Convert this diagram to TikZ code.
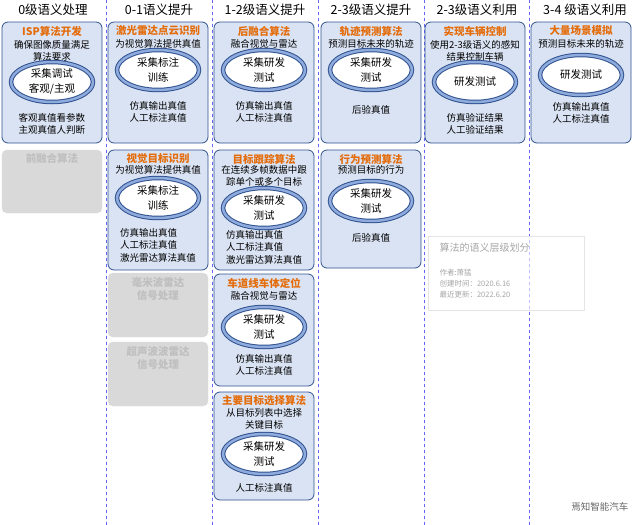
\documentclass[tikz,border=0pt]{standalone}
\usepackage{fontspec}
\setmainfont{Noto Sans CJK SC}
\usetikzlibrary{shapes.geometric}
\definecolor{boxfill}{RGB}{218,227,243}
\definecolor{titleorange}{RGB}{228,108,10}
\definecolor{ringblue}{RGB}{47,82,143}
\definecolor{ringlight}{RGB}{143,170,220}
\begin{document}
\begin{tikzpicture}
		[x=1pt,y=-1pt,line cap=round,
		%Styles
		algbox/.style={draw=ringblue,fill=boxfill,rounded corners=6pt,thick},
		greybox/.style={draw=black!15,fill=black!15,rounded corners=5pt},
		header/.style={font=\fontsize{12.5}{14}\selectfont},
		title/.style={font=\fontsize{10.5}{12}\selectfont\bfseries,text=titleorange},
		desc/.style={font=\fontsize{9.5}{12.5}\selectfont,align=center,inner sep=0pt},
		greytext/.style={font=\fontsize{10.5}{13}\selectfont\bfseries,text=black!25,align=center,inner sep=0pt},
		ring/.style={ellipse,draw=ringblue,double=ringlight,double distance=2.5pt,line width=1pt,
			fill=white,minimum width=82pt,minimum height=40pt,inner sep=0pt,align=center,
			font=\fontsize{10.5}{15}\selectfont},
		divider/.style={draw=blue!60,dashed,thin}
		]
		\useasboundingbox (0,0) rectangle (641,525);
		
		%Dividers and headers
		\foreach \x in {106,212,318,424,529}
			\draw[divider] (\x,0) -- (\x,525);
		\foreach \x/\t [count=\i] in {53/0级语义处理,159/0-1语义提升,265/1-2级语义提升,371/2-3级语义提升,477/2-3级语义利用,585/3-4 级语义利用}
			\node[header] (head\i) at (\x,10) {\t};
		
		%Algorithm boxes
		% #1 name, #2 left, #3 top, #4 bottom, #5 title, #6 desc, #7 desc y, #8 ring, #9 ring y
		\newcommand{\algbox}[9]{
			\draw[algbox] (#2,#3) rectangle ++(100,#4-#3);
			\node[title] (#1-title) at (#2+50,#3+9) {#5};
			\node[desc] (#1-desc) at (#2+50,#7) {#6};
			\node[ring] (#1-ring) at (#2+50,#9) {#8};
		}
		
		\algbox{isp}{2}{22}{143}{ISP算法开发}{确保图像质量满足\\算法要求}{51}{采集调试\\客观/主观}{82}
		\node[desc] (isp-res) at (52,124) {客观真值看参数\\主观真值人判断};
		
		\algbox{lidar}{108}{22}{143}{激光雷达点云识别}{为视觉算法提供真值}{44}{采集标注\\训练}{70}
		\node[desc,align=left] (lidar-res) at (158,112) {仿真输出真值\\人工标注真值};
		\algbox{vision}{108}{150}{270}{视觉目标识别}{为视觉算法提供真值}{170}{采集标注\\训练}{198}
		\node[desc,align=left] (vision-res) at (158,245) {仿真输出真值\\人工标注真值\\激光雷达算法真值};
		
		\algbox{late}{214}{22}{143}{后融合算法}{融合视觉与雷达}{44}{采集研发\\测试}{70}
		\node[desc,align=left] (late-res) at (264,112) {仿真输出真值\\人工标注真值};
		\algbox{track}{214}{150}{270}{目标跟踪算法}{在连续多帧数据中跟\\踪单个或多个目标}{176}{采集研发\\测试}{208}
		\node[desc,align=left] (track-res) at (264,247) {仿真输出真值\\人工标注真值\\激光雷达算法真值};
		\algbox{lane}{214}{274}{386}{车道线车体定位}{融合视觉与雷达}{296}{采集研发\\测试}{327}
		\node[desc,align=left] (lane-res) at (264,365) {仿真输出真值\\人工标注真值};
		\algbox{target}{214}{392}{500}{主要目标选择算法}{从目标列表中选择\\关键目标}{419}{采集研发\\测试}{454}
		\node[desc] (target-res) at (264,488) {人工标注真值};
		
		\algbox{traj}{321}{22}{143}{轨迹预测算法}{预测目标未来的轨迹}{44}{采集研发\\测试}{70}
		\node[desc] (traj-res) at (371,110) {后验真值};
		\algbox{behav}{321}{150}{268}{行为预测算法}{预测目标的行为}{170}{采集研发\\测试}{201}
		\node[desc] (behav-res) at (371,238) {后验真值};
		
		\algbox{ctrl}{425}{22}{143}{实现车辆控制}{使用2-3级语义的感知\\结果控制车辆}{51}{研发测试}{82}
		\node[desc,align=left] (ctrl-res) at (475,124) {仿真验证结果\\人工验证结果};
		\algbox{sim}{531}{22}{143}{大量场景模拟}{预测目标未来的轨迹}{44}{研发测试}{75}
		\node[desc,align=left] (sim-res) at (581,113) {仿真输出真值\\人工标注真值};
		
		%Grey boxes
		\draw[greybox] (2,150) rectangle (102,213);
		\node[greytext] (early) at (52,158) {前融合算法};
		\draw[greybox] (108,273) rectangle (208,337);
		\node[greytext] (mmw) at (158,289) {毫米波雷达\\信号处理};
		\draw[greybox] (108,342) rectangle (208,406);
		\node[greytext] (usonic) at (158,358) {超声波波雷达\\信号处理};
		
		%Info box
		\draw[draw=black!10,fill=white,fill opacity=0.6] (428,236) rectangle (584,310);
		\node[font=\fontsize{10}{12}\selectfont,text=black!35,anchor=west] (info-title) at (436,248) {算法的语义层级划分};
		\node[font=\fontsize{7.5}{11}\selectfont,text=black!35,anchor=north west,align=left] (info-text) at (436,266) {作者:萧猛\\创建时间：2020.6.16\\最近更新：2022.6.20};
		\node[font=\fontsize{9.5}{11}\selectfont,text=black!60,anchor=east] (mark) at (632,507) {焉知智能汽车};
\end{tikzpicture}
\end{document}
